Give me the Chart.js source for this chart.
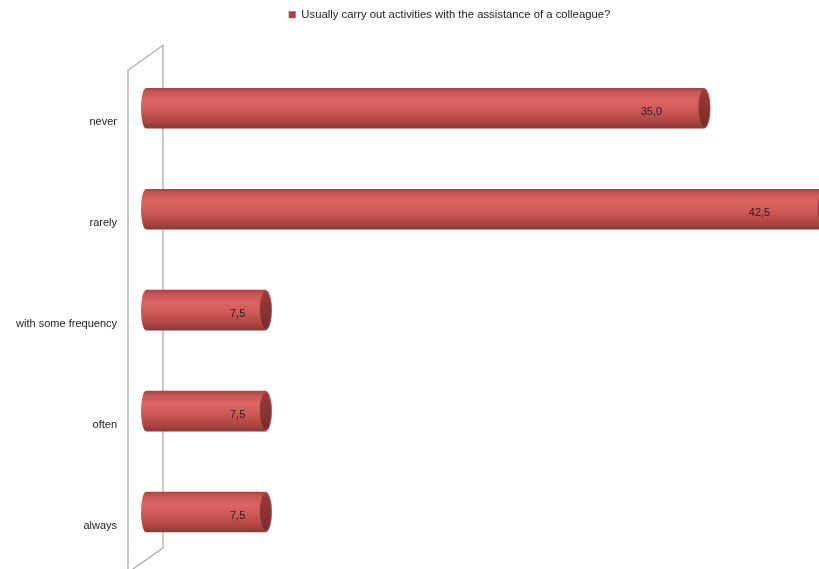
<!DOCTYPE html>
<html>
<head>
<meta charset="utf-8">
<script src="https://cdn.jsdelivr.net/npm/chart.js@4/dist/chart.umd.min.js"></script>
<style>
  html, body { margin: 0; padding: 0; background: #ffffff; }
  #wrap { width: 819px; height: 569px; position: relative; }
</style>
</head>
<body>
<div id="wrap"><canvas id="c"></canvas></div>
<script>
const categories = ["never", "rarely", "with some frequency", "often", "always"];
const seriesName = "Usually carry out activities with the assistance of a colleague?";
const values = [35.0, 42.5, 7.5, 7.5, 7.5];

const BASE = "#c0504d";
const FONT = "'Liberation Sans', Arial, sans-serif";

function barGradient(ctx, yTop, yBot) {
  const g = ctx.createLinearGradient(0, yTop, 0, yBot);
  g.addColorStop(0.00, "#a44644");
  g.addColorStop(0.10, "#c65654");
  g.addColorStop(0.32, "#dc6562");
  g.addColorStop(0.55, "#cf5a58");
  g.addColorStop(0.85, "#ad4442");
  g.addColorStop(1.00, "#8e3634");
  return g;
}
function capGradient(ctx, yTop, yBot) {
  const g = ctx.createLinearGradient(0, yTop, 0, yBot);
  g.addColorStop(0.0, "#9a3a38");
  g.addColorStop(0.5, "#8c3331");
  g.addColorStop(1.0, "#7a2a28");
  return g;
}

const legendTweak = {
  id: "legendTweak",
  beforeInit(chart) {
    const orig = chart.legend.fit;
    chart.legend.fit = function () {
      orig.call(this);
      this.height += 27.5;
    };
  },
  afterLayout(chart) {
    chart.legend.left = 80;
  }
};

const wall = {
  id: "wall",
  beforeDatasetsDraw(chart) {
    const { ctx, chartArea: ca } = chart;
    const fx = ca.left - 18, bx = ca.left + 17;
    ctx.save();
    ctx.strokeStyle = "#a6a6a6";
    ctx.lineWidth = 1.2;
    ctx.beginPath();
    ctx.moveTo(fx, chart.height + 2);
    ctx.lineTo(fx, ca.top + 12.5);
    ctx.lineTo(bx, ca.top - 12.5);
    ctx.lineTo(bx, ca.bottom - 14.5);
    ctx.lineTo(bx - 35, ca.bottom + 10);
    ctx.stroke();
    ctx.restore();
  }
};

const cylinder = {
  id: "cylinder",
  afterDatasetsDraw(chart) {
    const { ctx, chartArea: ca } = chart;
    const meta = chart.getDatasetMeta(0);
    meta.data.forEach((bar, i) => {
      const h = bar.height;
      const yTop = bar.y - h / 2, yBot = bar.y + h / 2;
      const rx = 6, ry = h / 2;
      ctx.save();
      ctx.beginPath();
      ctx.ellipse(bar.base, bar.y, rx - 1, ry, 0, Math.PI / 2, Math.PI * 1.5);
      ctx.closePath();
      ctx.fillStyle = barGradient(ctx, yTop, yBot);
      ctx.fill();
      ctx.restore();
      ctx.save();
      ctx.beginPath();
      ctx.rect(ca.left - 20, 0, ca.right - ca.left + 20, chart.height);
      ctx.clip();
      ctx.beginPath();
      ctx.ellipse(bar.x, bar.y, rx, ry, 0, Math.PI * 1.5, Math.PI / 2);
      ctx.fillStyle = barGradient(ctx, yTop, yBot);
      ctx.fill();
      ctx.beginPath();
      ctx.ellipse(bar.x, bar.y, rx, ry - 0.5, 0, 0, Math.PI * 2);
      ctx.fillStyle = capGradient(ctx, yTop, yBot);
      ctx.fill();
      ctx.strokeStyle = "rgba(200,90,88,0.6)";
      ctx.lineWidth = 1;
      ctx.stroke();
      ctx.restore();
      const v = values[i];
      const end = Math.min(bar.x, ca.right);
      const cx = end - 28 - 0.9 * (v - 7.5);
      ctx.save();
      ctx.font = "11px " + FONT;
      ctx.fillStyle = "#222222";
      ctx.textAlign = "center";
      ctx.textBaseline = "middle";
      ctx.fillText(v.toFixed(1).replace(".", ","), cx, bar.y + 4);
      ctx.restore();
    });
  }
};

new Chart(document.getElementById("c"), {
  type: "bar",
  data: {
    labels: categories,
    datasets: [{
      label: seriesName,
      data: values,
      backgroundColor: (c) => {
        if (c.type !== "data") return BASE;
        const chh = c.chart;
        if (!chh.chartArea) return BASE;
        const y = chh.scales.y.getPixelForValue(c.dataIndex);
        return barGradient(chh.ctx, y - 20, y + 20);
      },
      borderWidth: 0,
      barThickness: 40
    }]
  },
  options: {
    indexAxis: "y",
    responsive: true,
    maintainAspectRatio: false,
    animation: false,
    layout: { padding: { left: 0, right: 0, top: 0, bottom: 6.5 } },
    scales: {
      x: { display: false, min: 0, max: 42.2 },
      y: {
        grid: { display: false, drawTicks: false },
        border: { display: false },
        ticks: {
          padding: 29,
          labelOffset: 14,
          color: "#222222",
          font: { family: FONT, size: 11 }
        },
        afterFit(scale) {
          scale.width = 146;
          scale.paddingTop = 0;
          scale.paddingBottom = 0;
        }
      }
    },
    plugins: {
      legend: {
        position: "top",
        labels: {
          boxWidth: 7,
          boxHeight: 7,
          padding: 9,
          color: "#222222",
          font: { family: FONT, size: 11.3 }
        }
      },
      tooltip: { enabled: false }
    }
  },
  plugins: [legendTweak, wall, cylinder]
});
</script>
</body>
</html>
